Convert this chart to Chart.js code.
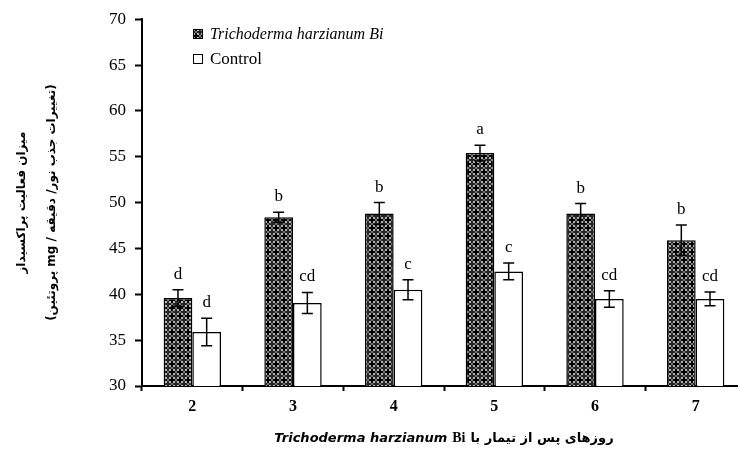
<!DOCTYPE html>
<html>
<head>
<meta charset="utf-8">
<script src="https://cdn.jsdelivr.net/npm/chart.js@4/dist/chart.umd.min.js"></script>
<style>
    html, body { margin: 0; padding: 0; background: #fff; overflow: hidden; }
    canvas { display: block; direction: rtl; }
</style>
</head>
<body>
<canvas id="peroxChart" width="760" height="452"></canvas>
<script>
// data
const days = ['2', '3', '4', '5', '6', '7'];
const trichoValues = [39.6, 48.4, 48.8, 55.4, 48.8, 45.9];
const trichoErrors = [0.9, 0.55, 1.2, 0.85, 1.1, 1.65];
const trichoLetters = ['d', 'b', 'b', 'a', 'b', 'b'];
const controlValues = [35.9, 39.05, 40.5, 42.5, 39.5, 39.5];
const controlErrors = [1.5, 1.15, 1.1, 0.9, 0.9, 0.75];
const controlLetters = ['d', 'cd', 'c', 'c', 'cd', 'cd'];
const yTicks = [30, 35, 40, 45, 50, 55, 60, 65, 70];

const yTitle = ['میزان فعالیت پراکسیداز', '(تغییرات جذب نور/ دقیقه / mg پروتئین)'];
const xTitleFa = 'روزهای پس از تیمار با';
const xTitleSpecies = 'Trichoderma harzianum';
const xTitleStrain = 'Bi';

// dark cross-hatch fill for the treated bars
function makePattern() {
    const c = document.createElement('canvas');
    c.width = 8; c.height = 8;
    const g = c.getContext('2d');
    g.fillStyle = '#262626';
    g.fillRect(0, 0, 8, 8);
    g.fillStyle = '#000';
    g.fillRect(3, 1, 2, 6);
    g.fillRect(1, 3, 6, 2);
    g.fillStyle = '#b4b4b4';
    g.fillRect(1, 1, 2, 2); g.fillRect(5, 1, 2, 2);
    g.fillRect(1, 5, 2, 2); g.fillRect(5, 5, 2, 2);
    g.fillStyle = '#777';
    g.fillRect(0, 3, 1, 2); g.fillRect(7, 3, 1, 2);
    g.fillRect(3, 0, 2, 1); g.fillRect(3, 7, 2, 1);
    return g.createPattern(c, 'repeat');
}

const ctx = document.getElementById('peroxChart').getContext('2d');
const hatch = makePattern();

// error bars + letters above them
const errorBars = {
    id: 'errorBars',
    afterDatasetsDraw(chart) {
        const c = chart.ctx;
        const y = chart.scales.y;
        chart.data.datasets.forEach((ds, i) => {
            chart.getDatasetMeta(i).data.forEach((bar, j) => {
                const top = y.getPixelForValue(ds.data[j] + ds.errors[j]);
                const bot = y.getPixelForValue(ds.data[j] - ds.errors[j]);
                c.save();
                c.strokeStyle = '#000';
                c.lineWidth = 1.5;
                c.beginPath();
                c.moveTo(bar.x, top); c.lineTo(bar.x, bot);
                c.moveTo(bar.x - 5.5, top); c.lineTo(bar.x + 5.5, top);
                c.moveTo(bar.x - 5.5, bot); c.lineTo(bar.x + 5.5, bot);
                c.stroke();
                c.fillStyle = '#000';
                c.font = '17px "Liberation Serif"';
                c.textAlign = 'center';
                c.textBaseline = 'alphabetic';
                c.fillText(ds.letters[j], bar.x, top - 11);
                c.restore();
            });
        });
    }
};

// legend in the top-left corner and the mixed-font x title
const extras = {
    id: 'extras',
    afterDraw(chart) {
        const c = chart.ctx;
        const ds = chart.data.datasets;
        c.save();
        c.lineWidth = 1;
        c.strokeStyle = '#000';
        c.fillStyle = hatch;
        c.fillRect(193, 29, 10, 10);
        c.strokeRect(193.5, 29.5, 9, 9);
        c.fillStyle = '#fff';
        c.fillRect(193, 54, 10, 10);
        c.strokeRect(193.5, 54.5, 9, 9);
        c.fillStyle = '#000';
        c.textAlign = 'left';
        c.textBaseline = 'alphabetic';
        c.font = 'italic 16px "Liberation Serif"';
        c.fillText(ds[0].label, 210, 39);
        c.font = '17px "Liberation Serif"';
        c.fillText(ds[1].label, 210, 64);

        // x title: latin part on the left, persian on the right
        const area = chart.chartArea;
        const fontSp = 'bold italic 13px "DejaVu Sans"';
        const fontBi = 'bold 14px "Liberation Serif"';
        const fontFa = 'bold 13px "DejaVu Sans"';
        c.font = fontSp; const w1 = c.measureText(xTitleSpecies).width;
        c.font = fontBi; const w2 = c.measureText(xTitleStrain).width;
        c.font = fontFa; const w3 = c.measureText(xTitleFa).width;
        const gap = 5;
        let x = (area.left + area.right) / 2 - (w1 + w2 + w3 + 2 * gap) / 2;
        const by = 442;
        c.direction = 'ltr';
        c.font = fontSp; c.fillText(xTitleSpecies, x, by); x += w1 + gap;
        c.font = fontBi; c.fillText(xTitleStrain, x, by); x += w2 + gap;
        c.direction = 'rtl';
        c.textAlign = 'right';
        c.font = fontFa; c.fillText(xTitleFa, x + w3, by);
        c.restore();
    }
};

new Chart(ctx, {
    type: 'bar',
    data: {
        labels: days,
        datasets: [
            {
                label: 'Trichoderma harzianum Bi',
                data: trichoValues,
                errors: trichoErrors,
                letters: trichoLetters,
                backgroundColor: hatch,
                borderColor: '#000',
                borderWidth: 1.5
            },
            {
                label: 'Control',
                data: controlValues,
                errors: controlErrors,
                letters: controlLetters,
                backgroundColor: '#fff',
                borderColor: '#000',
                borderWidth: 1.5
            }
        ]
    },
    options: {
        responsive: false,
        animation: false,
        devicePixelRatio: 1,
        layout: { padding: { top: 18, right: 14, bottom: 0, left: 0 } },
        datasets: {
            bar: { categoryPercentage: 0.57, barPercentage: 1.0 }
        },
        plugins: {
            legend: { display: false },
            tooltip: { enabled: false }
        },
        scales: {
            x: {
                afterFit: (scale) => { scale.height = 66; },
                grid: {
                    offset: true,
                    drawOnChartArea: false,
                    tickLength: 5,
                    tickWidth: 2,
                    tickColor: '#000'
                },
                border: { color: '#000', width: 2 },
                ticks: {
                    color: '#000',
                    padding: 6,
                    font: { family: 'Liberation Serif', size: 16, weight: 'bold' }
                }
            },
            y: {
                min: 30,
                max: 70,
                afterFit: (scale) => { scale.width = 142; },
                afterBuildTicks: (scale) => {
                    scale.ticks = yTicks.map(v => ({ value: v }));
                },
                grid: {
                    drawOnChartArea: false,
                    tickLength: 7,
                    tickWidth: 2,
                    tickColor: '#000'
                },
                border: { color: '#000', width: 2 },
                ticks: {
                    color: '#000',
                    padding: 9,
                    font: { family: 'Liberation Serif', size: 17 }
                },
                title: {
                    display: true,
                    text: yTitle,
                    color: '#000',
                    padding: { top: 7, bottom: 0 },
                    font: { family: 'DejaVu Sans', size: 12, weight: 'bold', lineHeight: 2.5 }
                }
            }
        }
    },
    plugins: [errorBars, extras]
});
</script>
</body>
</html>
